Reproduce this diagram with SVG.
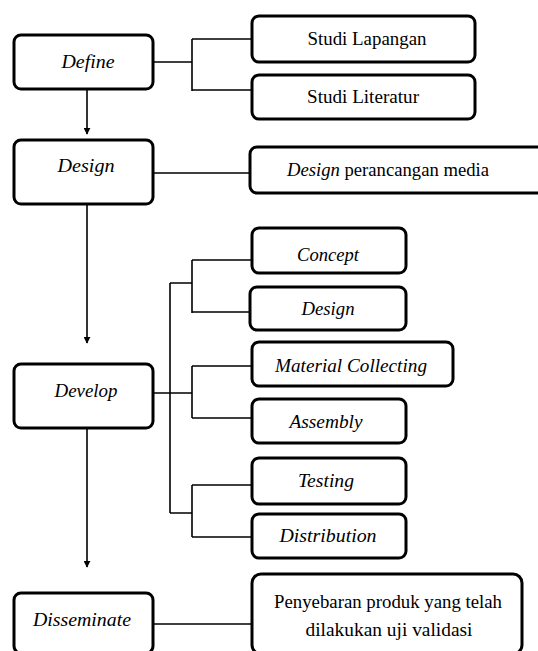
<svg xmlns="http://www.w3.org/2000/svg" width="538" height="651" viewBox="0 0 538 651">
<defs>
<style>
.box{fill:#fff;stroke:#000;stroke-width:3}
.ln{fill:none;stroke:#000;stroke-width:1.6}
text{font-family:"Liberation Serif","Times New Roman",serif;font-size:18px;fill:#000;text-anchor:middle}
.it{font-style:italic}
</style>
<marker id="ah" viewBox="0 0 10 10" refX="9" refY="5" markerWidth="7" markerHeight="7" orient="auto" markerUnits="userSpaceOnUse">
<path d="M0,0 L10,5 L0,10 z" fill="#000"/>
</marker>
</defs>
<rect width="538" height="651" fill="#fff"/>
<g id="connectors">
<line class="ln" x1="87" y1="89" x2="87" y2="134" marker-end="url(#ah)"/>
<line class="ln" x1="87" y1="204" x2="87" y2="343" marker-end="url(#ah)"/>
<line class="ln" x1="87" y1="428" x2="87" y2="567" marker-end="url(#ah)"/>
<path class="ln" d="M153,62 H192 M192,39 V91 M192,39 H252 M192,90 H252"/>
<path class="ln" d="M153,173 H250"/>
<path class="ln" d="M153,393 H192 M170,283 V513 M170,283 H192 M192,260 V313 M192,260 H252 M192,312 H250 M192,366 V418 M192,366 H252 M192,418 H252 M170,513 H192 M192,485 V537 M192,485 H252 M192,537 H252"/>
<path class="ln" d="M153,624 H252"/>
</g>
<g id="define"><rect class="box" x="14" y="35" width="139" height="54" rx="7"/><text class="it" x="88" y="68" textLength="53" lengthAdjust="spacingAndGlyphs">Define</text></g>
<g id="studi-lapangan"><rect class="box" x="252" y="16" width="223" height="46" rx="7"/><text x="367" y="45" textLength="119" lengthAdjust="spacingAndGlyphs">Studi Lapangan</text></g>
<g id="studi-literatur"><rect class="box" x="252" y="75" width="223" height="44" rx="7"/><text x="363" y="103" textLength="112" lengthAdjust="spacingAndGlyphs">Studi Literatur</text></g>
<g id="design"><rect class="box" x="14" y="140" width="139" height="64" rx="7"/><text class="it" x="86" y="172" textLength="57" lengthAdjust="spacingAndGlyphs">Design</text></g>
<g id="design-media"><rect class="box" x="250" y="147" width="300" height="46" rx="7"/><text x="388" y="176" textLength="202" lengthAdjust="spacingAndGlyphs"><tspan class="it">Design</tspan> perancangan media</text></g>
<g id="develop"><rect class="box" x="14" y="364" width="139" height="64" rx="7"/><text class="it" x="86" y="397" textLength="63" lengthAdjust="spacingAndGlyphs">Develop</text></g>
<g id="concept"><rect class="box" x="252" y="228" width="154" height="45" rx="7"/><text class="it" x="328" y="261" textLength="62" lengthAdjust="spacingAndGlyphs">Concept</text></g>
<g id="design-sub"><rect class="box" x="250" y="287" width="156" height="43" rx="7"/><text class="it" x="328" y="315" textLength="53" lengthAdjust="spacingAndGlyphs">Design</text></g>
<g id="material-collecting"><rect class="box" x="252" y="342" width="201" height="44" rx="7"/><text class="it" x="351" y="372" textLength="152" lengthAdjust="spacingAndGlyphs">Material Collecting</text></g>
<g id="assembly"><rect class="box" x="252" y="399" width="154" height="44" rx="7"/><text class="it" x="326" y="428" textLength="73" lengthAdjust="spacingAndGlyphs">Assembly</text></g>
<g id="testing"><rect class="box" x="252" y="458" width="154" height="46" rx="7"/><text class="it" x="326" y="487" textLength="56" lengthAdjust="spacingAndGlyphs">Testing</text></g>
<g id="distribution"><rect class="box" x="252" y="514" width="154" height="44" rx="7"/><text class="it" x="328" y="542" textLength="97" lengthAdjust="spacingAndGlyphs">Distribution</text></g>
<g id="disseminate"><rect class="box" x="14" y="593" width="139" height="60" rx="7"/><text class="it" x="82" y="626" textLength="98" lengthAdjust="spacingAndGlyphs">Disseminate</text></g>
<g id="penyebaran"><rect class="box" x="252" y="574" width="270" height="80" rx="9"/><text x="388" y="608" textLength="228" lengthAdjust="spacingAndGlyphs">Penyebaran produk yang telah</text><text x="389" y="636" textLength="167" lengthAdjust="spacingAndGlyphs">dilakukan uji validasi</text></g>
</svg>
